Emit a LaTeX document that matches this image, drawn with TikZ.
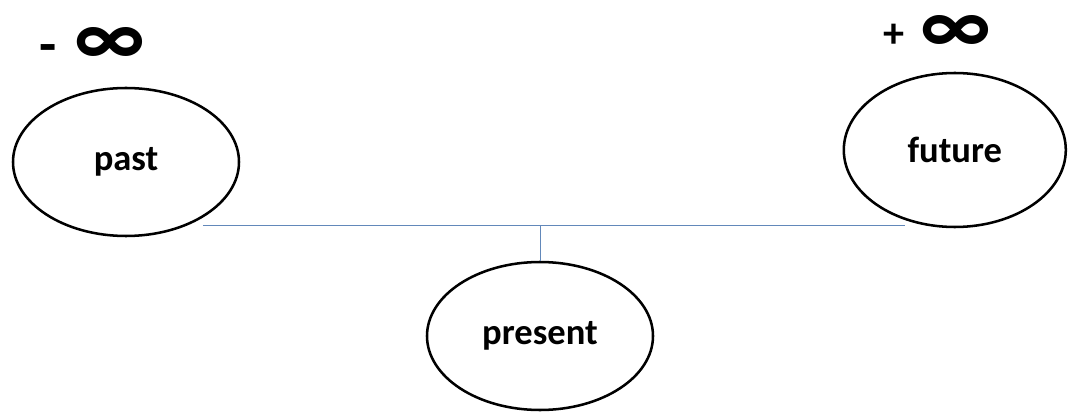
\documentclass[tikz,border=0pt]{standalone}
\usepackage{fontspec}
\setmainfont{Carlito}
\usetikzlibrary{shapes.geometric, positioning}
\definecolor{lineblue}{RGB}{98, 136, 186}

\begin{document}
\begin{tikzpicture}[
  timebubble/.style={ellipse, draw=black, line width=1.8pt, inner sep=0pt,
    minimum width=5.65cm, minimum height=3.7cm, font=\fontsize{26}{26}\selectfont\bfseries},
  signmark/.style={inner sep=0pt, font=\fontsize{30}{30}\selectfont\bfseries},
  infmark/.style={inner sep=0pt, font=\fontsize{60}{60}\selectfont\bfseries}
]
  \useasboundingbox (0,0) rectangle (26.7,10.3);

  % 三个时间椭圆
  \node[timebubble] (past) at (3.15,6.25) {past};
  \node[timebubble, minimum width=5.55cm, minimum height=3.85cm] (future) at (23.87,6.55) {future};
  \node[timebubble] (present) at (13.5,1.9) {present};

  % 无穷符号
  \node[signmark, font=\fontsize{40}{40}\selectfont\bfseries] (minus) at (1.2,8.95) {-};
  \node[infmark] (neginf) at (2.75,9.15) {∞};
  \node[signmark] (plus) at (22.35,9.4) {+};
  \node[infmark] (posinf) at (23.9,9.45) {∞};

  % 时间轴
  \coordinate (axisL) at (5.07,4.67);
  \coordinate (axisR) at (22.62,4.67);
  \coordinate (joint) at (present.north |- axisL);
  \draw[lineblue, line width=0.6pt] (axisL) -- (axisR);
  \draw[lineblue, line width=0.6pt] (joint) -- (present.north);
\end{tikzpicture}
\end{document}
